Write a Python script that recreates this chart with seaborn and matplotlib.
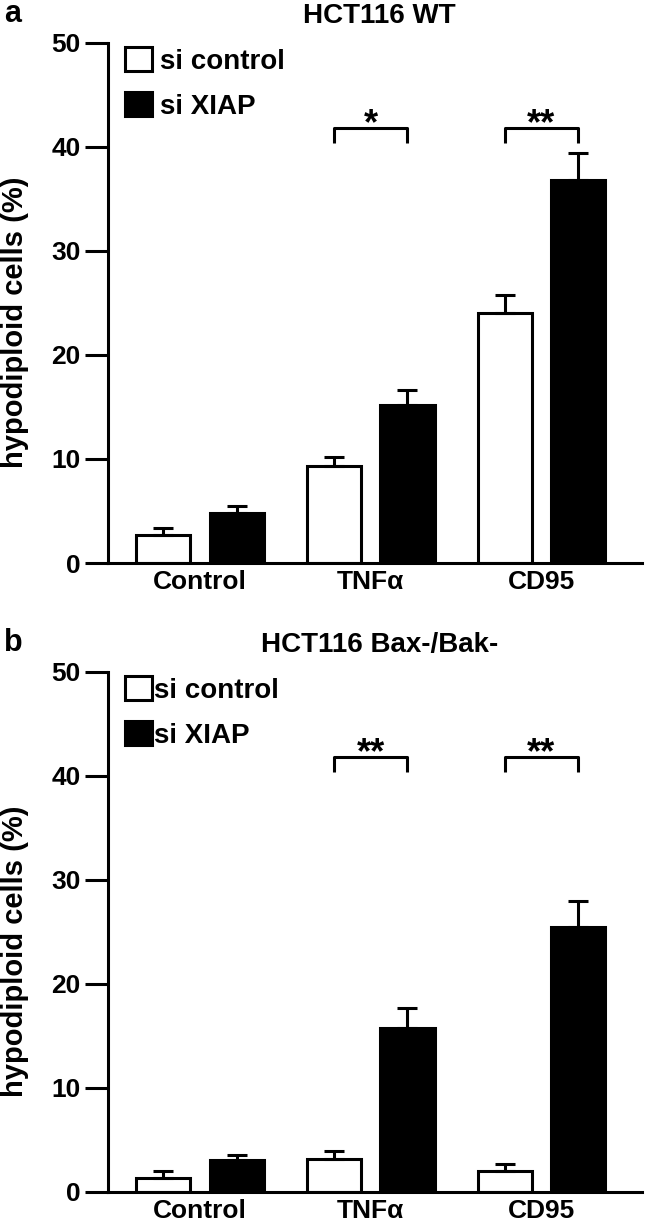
import numpy as np
import pandas as pd
import matplotlib
matplotlib.use('Agg')
import matplotlib.pyplot as plt
from matplotlib.patches import Patch
import seaborn as sns

# -------------------------------------------------------
# DATA
# -------------------------------------------------------
conditions = ['Control', 'TNFα', 'CD95']
si_groups = ['si control', 'si XIAP']

# panel a - HCT116 WT (mean and upper SEM)
wt_control = [2.65, 9.35, 24.0]
wt_xiap = [4.85, 15.2, 36.8]
wt_control_err = [0.75, 0.85, 1.8]
wt_xiap_err = [0.65, 1.4, 2.65]
wt_sig = ['', '*', '**']

# panel b - HCT116 Bax-/Bak-
bb_control = [1.3, 3.1, 2.0]
bb_xiap = [3.05, 15.7, 25.5]
bb_control_err = [0.7, 0.8, 0.7]
bb_xiap_err = [0.5, 2.0, 2.5]
bb_sig = ['', '**', '**']

y_ticks = [0, 10, 20, 30, 40, 50]

sns.set_theme(style='ticks')
plt.rcParams['font.family'] = ['Liberation Sans', 'DejaVu Sans']
plt.rcParams['font.weight'] = 'bold'
plt.rcParams['text.color'] = 'black'
plt.rcParams['axes.labelcolor'] = 'black'

fig = plt.figure(figsize=(6.45, 12.24), dpi=100)


def draw_panel(rect, ctrl, xiap, ctrl_err, xiap_err, sig, title, letter,
               handle_pad):
    ax = fig.add_axes(rect)
    df = pd.DataFrame({
        'condition': conditions * 2,
        'si': [si_groups[0]] * 3 + [si_groups[1]] * 3,
        'value': list(ctrl) + list(xiap),
    })
    sns.barplot(data=df, x='condition', y='value', hue='si',
                hue_order=si_groups, order=conditions,
                palette=['white', 'black'], edgecolor='black',
                linewidth=2.2, width=0.86, gap=0.26, legend=False,
                errorbar=None, ax=ax)

    # hata çubukları: sadece yukarı doğru
    bars = ax.patches[:6]
    xs = [b.get_x() + b.get_width() / 2 for b in bars]
    hs = [b.get_height() for b in bars]
    errs = list(ctrl_err) + list(xiap_err)
    ax.errorbar(xs, hs, yerr=[np.zeros(6), errs], fmt='none',
                ecolor='black', elinewidth=2.2, capsize=7, capthick=2.2,
                zorder=1)

    # anlamlılık parantezleri
    for i, s in enumerate(sig):
        if not s:
            continue
        x0, x1 = xs[i], xs[i + 3]
        ax.plot([x0, x0, x1, x1], [40.4, 41.8, 41.8, 40.4], color='black',
                lw=2.2, solid_capstyle='butt', clip_on=False)
        ax.text((x0 + x1) / 2, 41.2, s, ha='center', va='baseline',
                fontsize=26, fontweight='bold')

    ax.set_xlim(-0.537, 2.587)
    ax.set_ylim(0, 50)
    ax.set_yticks(y_ticks)
    ax.set_xlabel('')
    ax.set_ylabel('hypodiploid cells (%)', fontsize=21, fontweight='bold',
                  va='center')
    ax.yaxis.set_label_coords(-0.174, 0.463)
    sns.despine(ax=ax)
    for sp in ['left', 'bottom']:
        ax.spines[sp].set_linewidth(2.2)
        ax.spines[sp].set_color('black')
    ax.tick_params(axis='y', length=16.5, width=2.2, pad=3.5,
                   labelsize=19, colors='black')
    ax.tick_params(axis='x', length=0, pad=5, labelsize=19, colors='black')
    for lab in ax.get_xticklabels() + ax.get_yticklabels():
        lab.set_fontweight('bold')

    # lejant
    handles = [Patch(facecolor='white', edgecolor='black', linewidth=2.2),
               Patch(facecolor='black', edgecolor='black', linewidth=2.2)]
    ax.legend(handles, si_groups, loc='upper left',
              bbox_to_anchor=(0.031, 0.992), frameon=False, borderpad=0,
              borderaxespad=0, handlelength=0.97, handleheight=0.97,
              handletextpad=handle_pad, labelspacing=0.62,
              prop={'size': 20, 'weight': 'bold'})

    # başlık ve panel harfi
    top_px = (1 - rect[1] - rect[3]) * 1224
    fig.text(379.5 / 645, 1 - (top_px - 20) / 1224, title, ha='center',
             va='baseline', fontsize=20, fontweight='bold')
    fig.text(4 / 645, 1 - (top_px - 21) / 1224, letter, ha='left',
             va='baseline', fontsize=22, fontweight='bold')
    return ax


draw_panel([0.1679, 0.540, 0.827, 0.425], wt_control, wt_xiap,
           wt_control_err, wt_xiap_err, wt_sig, 'HCT116 WT', 'a', 0.3)
draw_panel([0.1679, 0.0264, 0.827, 0.4248], bb_control, bb_xiap,
           bb_control_err, bb_xiap_err, bb_sig, 'HCT116 Bax-/Bak-', 'b', 0.08)

fig.savefig('out.png', dpi=100)
